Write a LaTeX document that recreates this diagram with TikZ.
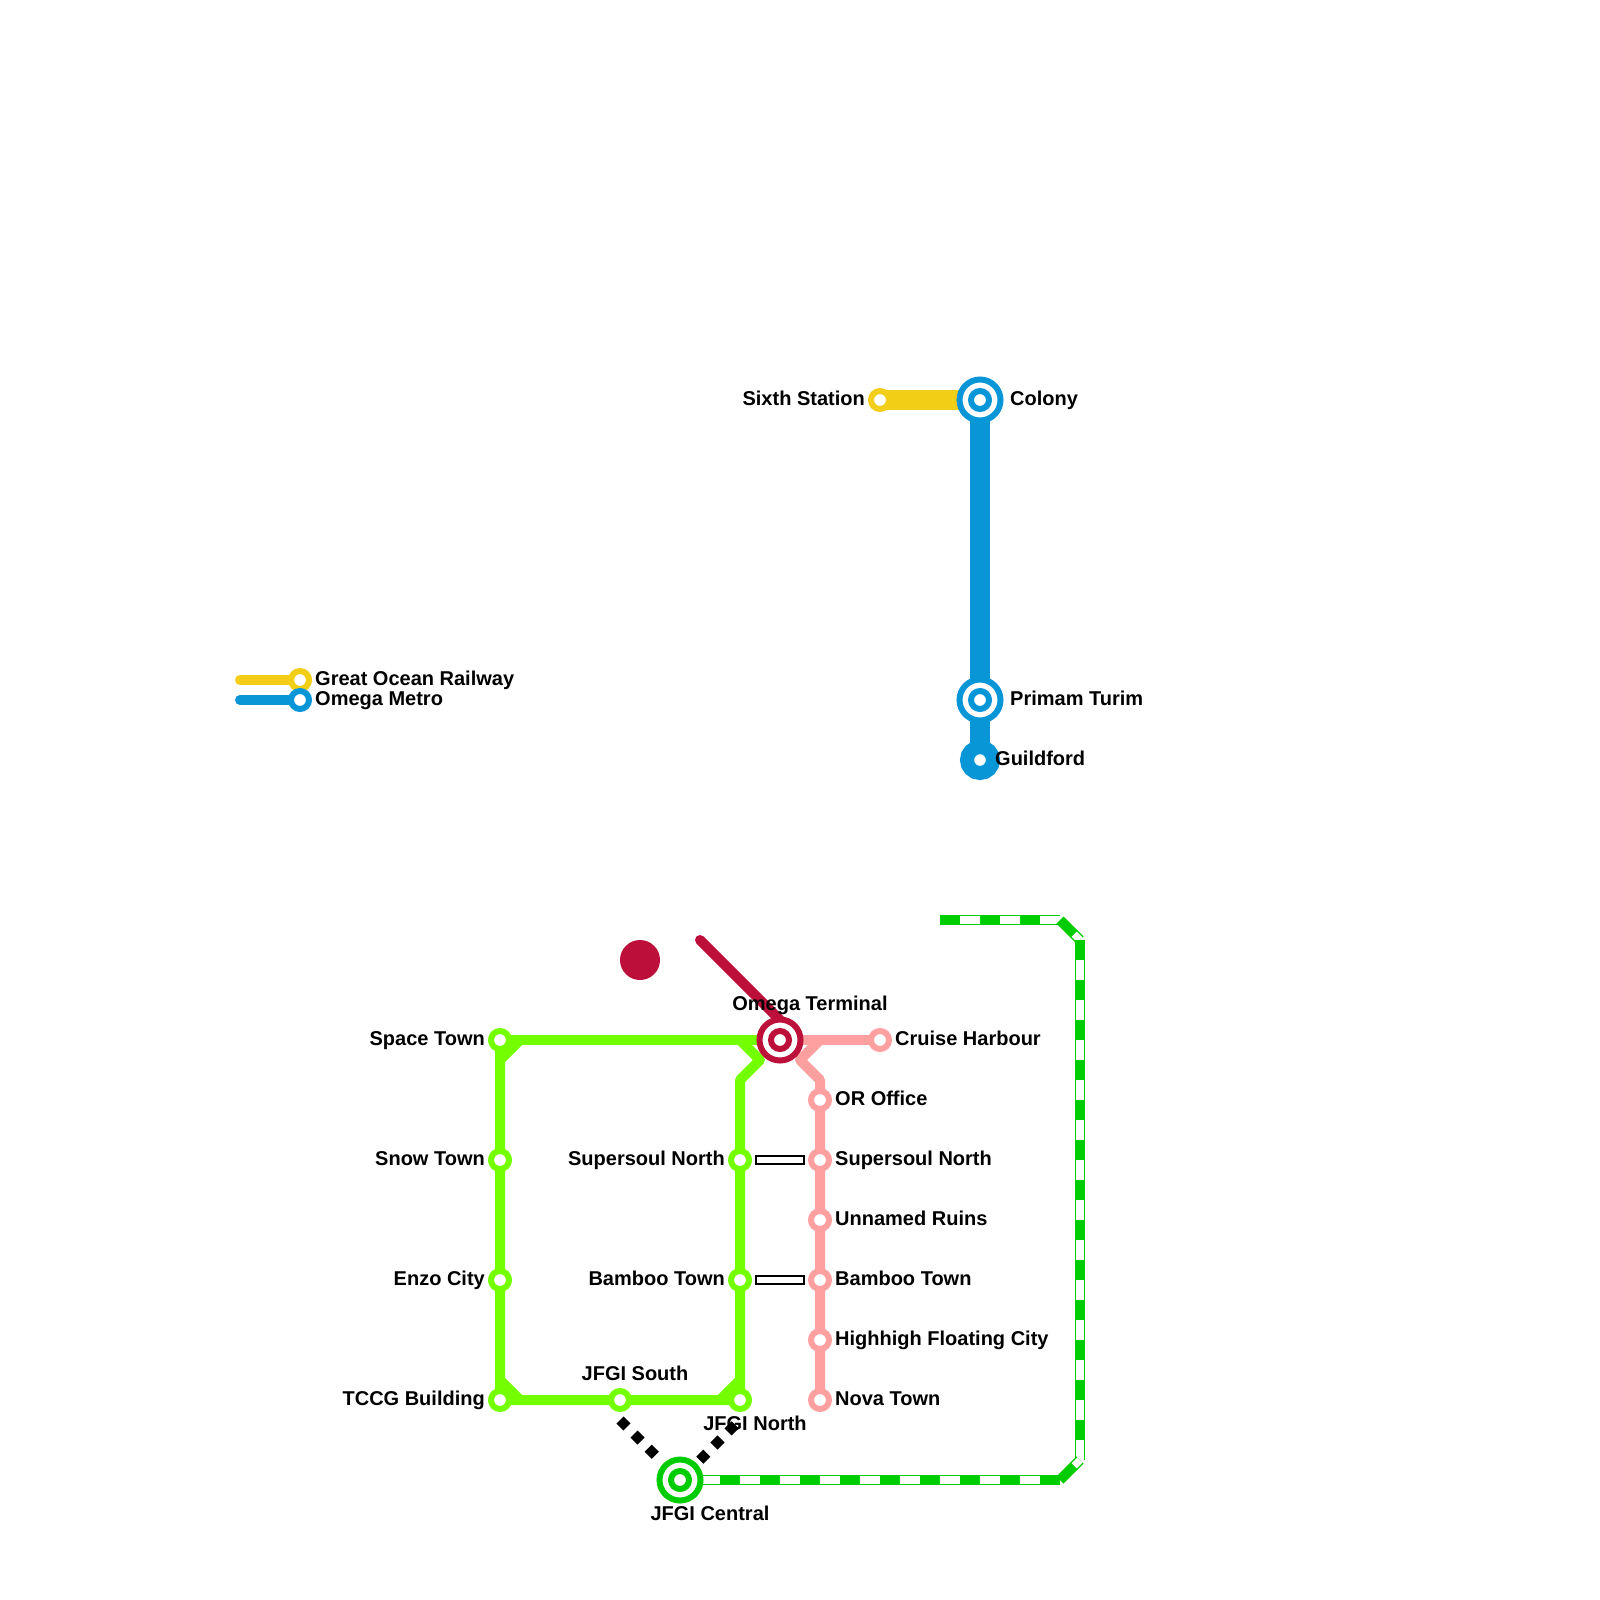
\documentclass[tikz,border=0pt]{standalone}
\usepackage{fontspec}
\setmainfont{Liberation Sans}
\usetikzlibrary{backgrounds}
\definecolor{limeline}{HTML}{73FF00}
\definecolor{pinkline}{HTML}{FFA0A0}
\definecolor{redline}{HTML}{BC0F3A}
\definecolor{yellowline}{HTML}{F2CE17}
\definecolor{blueline}{HTML}{0896D7}
\definecolor{railline}{HTML}{00CC00}
\tikzset{
  stop/.style={circle,draw=#1,fill=white,line width=6pt,minimum size=18pt,inner sep=0pt,outer sep=0pt},
  hub/.style={circle,draw=#1,fill=white,line width=6pt,minimum size=41pt,inner sep=0pt,outer sep=0pt},
  ending/.style={circle,draw=#1,fill=white,line width=14pt,minimum size=26pt,inner sep=0pt,outer sep=0pt},
  namer/.style={anchor=base west,inner sep=0pt,font=\fontsize{20}{20}\selectfont\bfseries},
  namel/.style={anchor=base east,inner sep=0pt,font=\fontsize{20}{20}\selectfont\bfseries},
  namec/.style={anchor=base,inner sep=0pt,font=\fontsize{20}{20}\selectfont\bfseries},
  route/.style={draw=#1,line width=10pt,line join=round},
  trunk/.style={draw=#1,line width=20pt},
  rail/.style={draw=railline,line width=10pt,postaction={draw=white,line width=7.2pt,dash pattern=on 0pt off 20pt on 20pt off 0pt}},
  transfer/.style={draw=black,line width=10pt,shorten >=15pt,shorten <=15pt,postaction={draw=white,line width=6pt,shorten >=17pt,shorten <=17pt}},
  walk/.style={draw=black,line width=10pt,shorten <=25pt,dash pattern=on 10pt off 10pt,dash phase=#1}
}
\begin{document}
\begin{tikzpicture}[x=1pt,y=-1pt]
\useasboundingbox (0,0) rectangle (1600,1600);
% legend
\coordinate (keya) at (240,680);
\coordinate (keyb) at (240,700);
\node[stop=yellowline] (keyyellow) at (300,680) {};
\node[stop=blueline] (keyblue) at (300,700) {};
\node[namer] (keyyellowname) at (315,685) {Great Ocean Railway};
\node[namer] (keybluename) at (315,705) {Omega Metro};
% top lines
\node[stop=yellowline] (sixth) at (880,400) {};
\node[hub=blueline] (colony) at (980,400) {};
\node[stop=blueline] (colonyin) at (980,400) {};
\node[hub=blueline] (primam) at (980,700) {};
\node[stop=blueline] (primamin) at (980,700) {};
\node[ending=blueline] (guildford) at (980,760) {};
\node[namel] (sixthname) at (865,405) {Sixth Station};
\node[namer] (colonyname) at (1010,405) {Colony};
\node[namer] (primamname) at (1010,705) {Primam Turim};
\node[namer] (guildfordname) at (995,765) {Guildford};
% lime line
\node[stop=limeline] (space) at (500,1040) {};
\node[stop=limeline] (snow) at (500,1160) {};
\node[stop=limeline] (enzo) at (500,1280) {};
\node[stop=limeline] (tccg) at (500,1400) {};
\node[stop=limeline] (jfgis) at (620,1400) {};
\node[stop=limeline] (jfgin) at (740,1400) {};
\node[stop=limeline] (bamboog) at (740,1280) {};
\node[stop=limeline] (supersoulg) at (740,1160) {};
\node[namel] (spacename) at (485,1045) {Space Town};
\node[namel] (snowname) at (485,1165) {Snow Town};
\node[namel] (enzoname) at (485,1285) {Enzo City};
\node[namel] (tccgname) at (485,1405) {TCCG Building};
\node[namel] (supersoulgname) at (725,1165) {Supersoul North};
\node[namel] (bambooggname) at (725,1285) {Bamboo Town};
\node[namec] (jfgisname) at (635,1380) {JFGI South};
\node[namec] (jfginname) at (755,1430) {JFGI North};
% pink line
\node[stop=pinkline] (cruise) at (880,1040) {};
\node[stop=pinkline] (oroffice) at (820,1100) {};
\node[stop=pinkline] (supersoulp) at (820,1160) {};
\node[stop=pinkline] (unnamed) at (820,1220) {};
\node[stop=pinkline] (bamboop) at (820,1280) {};
\node[stop=pinkline] (highhigh) at (820,1340) {};
\node[stop=pinkline] (nova) at (820,1400) {};
\node[namer] (cruisename) at (895,1045) {Cruise Harbour};
\node[namer] (orofficename) at (835,1105) {OR Office};
\node[namer] (supersoulpname) at (835,1165) {Supersoul North};
\node[namer] (unnamedname) at (835,1225) {Unnamed Ruins};
\node[namer] (bamboopname) at (835,1285) {Bamboo Town};
\node[namer] (highhighname) at (835,1345) {Highhigh Floating City};
\node[namer] (novaname) at (835,1405) {Nova Town};
% red line
\node[circle,fill=redline,minimum size=40pt,inner sep=0pt,outer sep=0pt] (reddot) at (640,960) {};
\coordinate (redend) at (700,940);
\coordinate (redbend) at (780,1020);
\node[hub=redline] (omega) at (780,1040) {};
\node[stop=redline] (omegain) at (780,1040) {};
\node[namec] (omeganame) at (810,1010) {Omega Terminal};
% rail line
\node[hub=railline] (central) at (680,1480) {};
\node[stop=railline] (centralin) at (680,1480) {};
\node[namec] (centralname) at (710,1520) {JFGI Central};
\coordinate (raila) at (940,920);
\coordinate (railb) at (1060,920);
\coordinate (railc) at (1080,940);
\coordinate (raild) at (1080,1460);
\coordinate (raile) at (1060,1480);
% bends
\coordinate (limea) at (520,1040);
\coordinate (limeb) at (740,1040);
\coordinate (limec) at (760,1060);
\coordinate (limed) at (740,1080);
\coordinate (limee) at (500,1060);
\coordinate (limef) at (500,1380);
\coordinate (limeg) at (520,1400);
\coordinate (limeh) at (720,1400);
\coordinate (limei) at (740,1380);
\coordinate (pinkb) at (820,1040);
\coordinate (pinkc) at (800,1060);
\coordinate (pinkd) at (820,1080);
\coordinate (walka) at (620,1420);
\coordinate (walkb) at (740,1420);
\begin{scope}[on background layer]
\draw[route=yellowline,line cap=round] (keya) -- (keyyellow.center);
\draw[route=blueline,line cap=round] (keyb) -- (keyblue.center);
\draw[trunk=yellowline] (sixth.center) -- (colony.center);
\draw[trunk=blueline] (colony.center) -- (guildford.center);
\draw[route=limeline] (space.center) -- (omega.center);
\draw[route=limeline] (limeb) -- (limec) -- (limed) -- (jfgin.center) -- (tccg.center) -- (space.center);
\draw[route=limeline] (limea) -- (limee);
\draw[route=limeline] (limef) -- (limeg);
\draw[route=limeline] (limeh) -- (limei);
\draw[route=pinkline] (omega.center) -- (cruise.center);
\draw[route=pinkline] (pinkb) -- (pinkc) -- (pinkd) -- (nova.center);
\draw[route=redline,line cap=round] (redend) -- (redbend) -- (omega.center);
\draw[rail] (raila) -- (railb);
\draw[rail] (railb) -- (railc);
\draw[rail] (railc) -- (raild);
\draw[rail] (raile) -- (raild);
\draw[rail] (raile) -- (central.center);
\draw[walk=10pt] (central.center) -- (walka);
\draw[walk=17pt] (central.center) -- (walkb);
\draw[transfer] (supersoulg.center) -- (supersoulp.center);
\draw[transfer] (bamboog.center) -- (bamboop.center);
\end{scope}
\end{tikzpicture}
\end{document}
